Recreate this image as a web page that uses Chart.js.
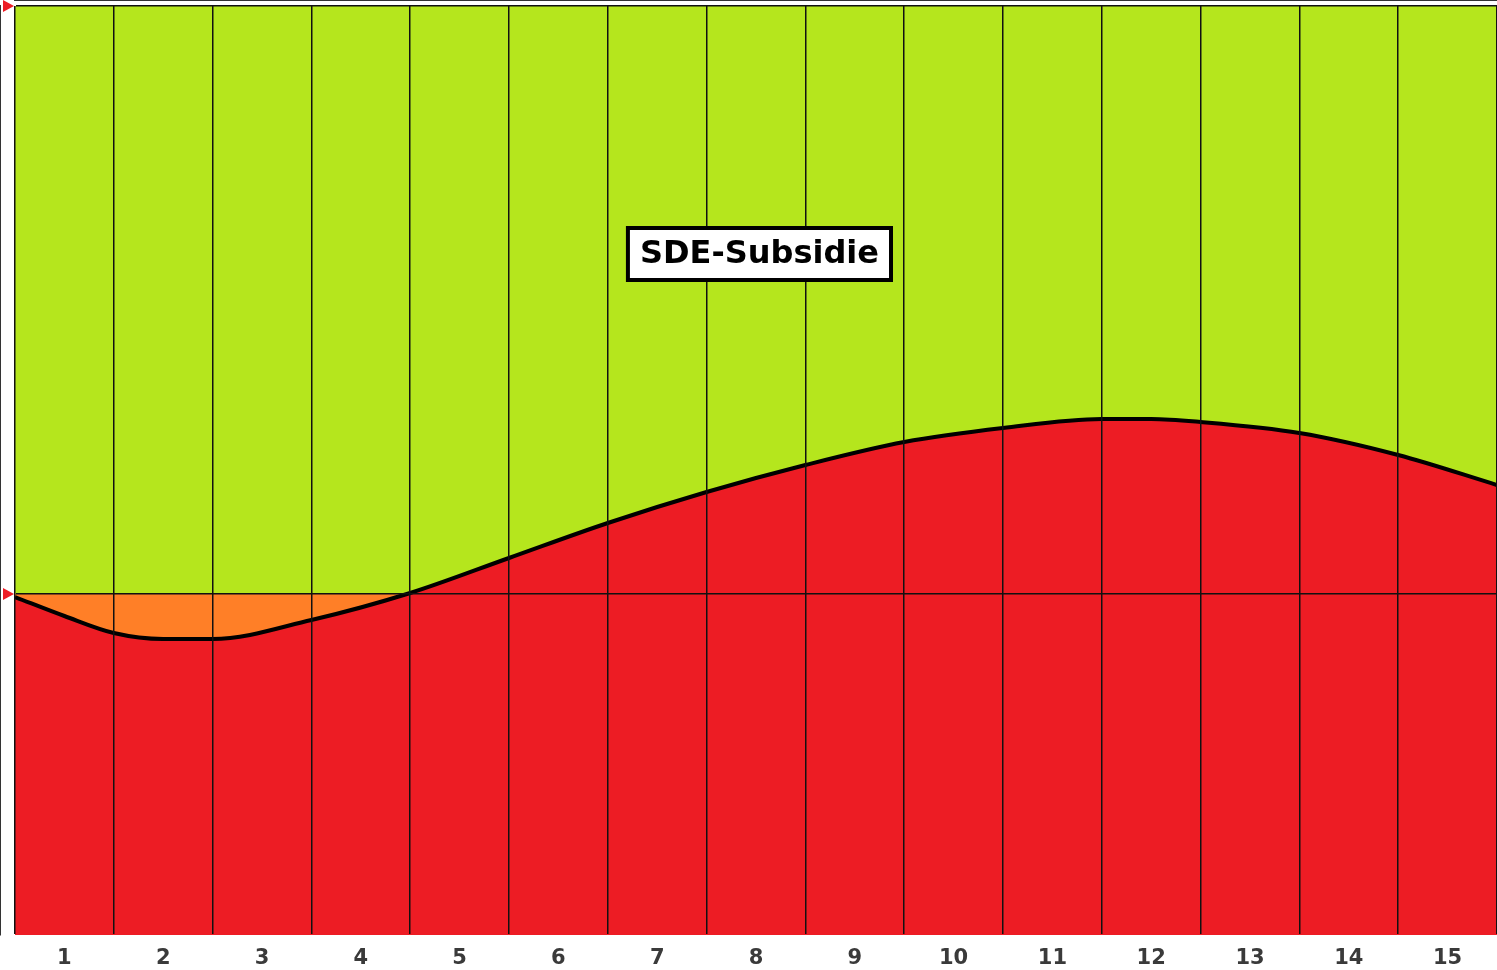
<!DOCTYPE html>
<html>
<head>
<meta charset="utf-8">
<script src="https://cdn.jsdelivr.net/npm/chart.js@4/dist/chart.umd.min.js"></script>
<style>
    body { margin: 0; background: #fff; }
    #wrap { width: 1497px; height: 970px; }
</style>
</head>
<body>
<div id="wrap"><canvas id="sdeChart" width="1497" height="970"></canvas></div>
<script>
// year columns (tick labels) and the cost curve, relative to the base price line (0)
const yearLabels = ["1", "2", "3", "4", "5", "6", "7", "8", "9", "10", "11", "12", "13", "14", "15"];
const curveX = [0, 0.5, 1, 1.5, 2, 3, 4, 5, 6, 7, 8, 9, 10, 11, 11.5, 12, 13, 14, 15];
const curveY = [-0.03, -0.22, -0.39, -0.45, -0.45, -0.26, 0.01, 0.36, 0.71, 1.02, 1.29, 1.52, 1.66, 1.75, 1.75, 1.72, 1.61, 1.39, 1.09];
const subsidyLabel = "SDE-Subsidie";

const lime = "#B5E61D";
const red = "#ED1C24";
const orange = "#FF7F27";

const curvePoints = curveX.map((x, i) => ({ x: x, y: curveY[i] }));

// label box + little red axis markers
const overlayPlugin = {
    id: "overlay",
    afterDraw(chart) {
        const { ctx, chartArea, scales } = chart;
        const xs = scales.x;
        const ys = scales.y;

        ctx.save();
        ctx.fillStyle = "#ED1C24";
        [ys.max, 0].forEach(function (v) {
            const py = ys.getPixelForValue(v);
            ctx.beginPath();
            ctx.moveTo(chartArea.left - 1, py);
            ctx.lineTo(chartArea.left - 12, py - 6);
            ctx.lineTo(chartArea.left - 12, py + 6);
            ctx.closePath();
            ctx.fill();
        });

        const cx = xs.getPixelForValue(7.535);
        const cy = ys.getPixelForValue(3.4);
        ctx.font = "bold 32px 'DejaVu Sans'";
        const w = ctx.measureText(subsidyLabel).width + 24;
        const h = 52;
        ctx.fillStyle = "#fff";
        ctx.fillRect(cx - w / 2, cy - h / 2, w, h);
        ctx.lineWidth = 4;
        ctx.strokeStyle = "#000";
        ctx.strokeRect(cx - w / 2, cy - h / 2, w, h);
        ctx.fillStyle = "#000";
        ctx.textAlign = "center";
        ctx.textBaseline = "middle";
        ctx.fillText(subsidyLabel, cx, cy + 1);
        ctx.restore();
    }
};

new Chart(document.getElementById("sdeChart"), {
    type: "line",
    data: {
        datasets: [{
            // orange: curve dips under the base price
            data: curvePoints,
            borderColor: "#000",
            borderWidth: 4,
            pointRadius: 0,
            cubicInterpolationMode: "monotone",
            fill: { target: "origin", above: "rgba(0,0,0,0)", below: orange }
        }, {
            data: curvePoints,
            borderWidth: 0,
            pointRadius: 0,
            cubicInterpolationMode: "monotone",
            backgroundColor: red,
            fill: "start"
        }, {
            data: curvePoints,
            borderWidth: 0,
            pointRadius: 0,
            cubicInterpolationMode: "monotone",
            backgroundColor: lime,
            fill: "end"
        }]
    },
    plugins: [overlayPlugin],
    options: {
        responsive: false,
        devicePixelRatio: 1,
        animation: false,
        layout: { padding: { left: 15, top: 6, right: 0, bottom: 0 } },
        plugins: {
            legend: { display: false },
            tooltip: { enabled: false }
        },
        scales: {
            x: {
                type: "linear",
                min: 0,
                max: 15,
                position: "bottom",
                ticks: { display: false, stepSize: 1 },
                grid: { color: "#111", lineWidth: 1.5, drawTicks: false, z: 1 },
                border: { color: "#333", width: 2 },
                afterFit: function (axis) {
                    axis.height = 2;
                }
            },
            xLabels: {
                type: "category",
                labels: yearLabels,
                position: "bottom",
                offset: true,
                grid: { display: false, drawTicks: false },
                border: { display: false },
                afterFit: function (axis) {
                    axis.height = 33;
                },
                ticks: {
                    color: "#3a3a3a",
                    padding: 9,
                    font: { family: "DejaVu Sans", size: 21, weight: "bold" }
                }
            },
            y: {
                min: -3.41,
                max: 5.88,
                afterBuildTicks: function (axis) {
                    axis.ticks = [{ value: -3.41 }, { value: 0 }, { value: 5.88 }];
                },
                ticks: { display: false },
                grid: {
                    drawTicks: false,
                    lineWidth: 1.5,
                    z: 1,
                    color: function (context) {
                        return context.tick && context.tick.value === -3.41 ? "rgba(0,0,0,0)" : "#111";
                    }
                },
                border: { color: "#333", width: 2 }
            }
        }
    }
});
</script>
</body>
</html>
